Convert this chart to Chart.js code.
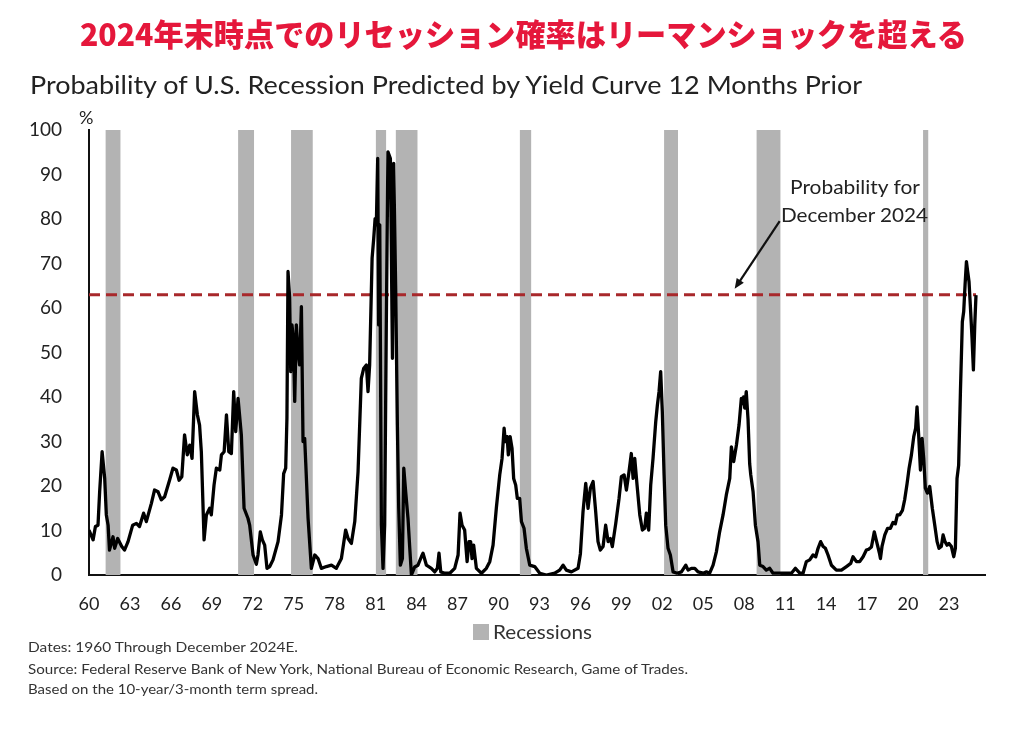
<!DOCTYPE html>
<html lang="ja">
<head>
<meta charset="UTF-8">
<title>Probability of U.S. Recession</title>
<script src="https://cdn.jsdelivr.net/npm/chart.js"></script>
<style>
    body {
        margin: 0;
        width: 1024px;
        height: 742px;
        background: #fff;
        position: relative;
        overflow: hidden;
        font-family: Lato, "Open Sans", sans-serif;
        color: #222;
    }
    #chart {
        position: absolute;
        left: 0;
        top: 0;
    }
    .txt {
        position: absolute;
        white-space: nowrap;
        line-height: 1;
        transform-origin: left center;
    }
    .jp {
        font-family: "Noto Sans CJK JP", sans-serif;
        font-weight: 900;
        color: #e5173b;
        font-size: 31px;
    }
    .swatch {
        position: absolute;
        left: 473px;
        top: 624px;
        width: 16px;
        height: 16px;
        background: #b3b3b3;
    }
</style>
</head>
<body>
    <canvas id="chart" width="1024" height="742"></canvas>

    <div class="txt jp" data-w="887" style="left:80px; top:17px;">2024年末時点でのリセッション確率はリーマンショックを超える</div>
    <div class="txt" data-w="832" style="left:30px; top:72px; font-size:25px;">Probability of U.S. Recession Predicted by Yield Curve 12 Months Prior</div>
    <div class="txt" style="left:79px; top:108px; font-size:18px;">%</div>

    <div class="txt" data-w="130" style="left:790px; top:177px; font-size:19px;">Probability for</div>
    <div class="txt" data-w="147" style="left:781px; top:205px; font-size:19px;">December 2024</div>

    <div class="swatch"></div>
    <div class="txt" data-w="99" style="left:493px; top:622px; font-size:19px; color:#333;">Recessions</div>

    <div class="txt" data-w="270" style="left:28px; top:641px; font-size:13px; color:#333;">Dates: 1960 Through December 2024E.</div>
    <div class="txt" data-w="660" style="left:28px; top:663px; font-size:13px; color:#333;">Source: Federal Reserve Bank of New York, National Bureau of Economic Research, Game of Trades.</div>
    <div class="txt" data-w="290" style="left:28px; top:683px; font-size:13px; color:#333;">Based on the 10-year/3-month term spread.</div>

<script>
// x axis labels (every 3 years, shown as 2 digits)
const tickYears = [1960, 1963, 1966, 1969, 1972, 1975, 1978, 1981, 1984, 1987, 1990,
    1993, 1996, 1999, 2002, 2005, 2008, 2011, 2014, 2017, 2020, 2023];

// recession bands as drawn on the chart (decimal years)
const recessionStarts = [1961.2, 1970.92, 1974.8, 1981.0, 1982.46, 1991.55, 2002.13, 2008.89, 2021.1];
const recessionEnds   = [1962.32, 1972.1, 1976.4, 1981.78, 1984.08, 1992.41, 2003.15, 2010.67, 2021.5];

// probability line
const probYears = [
    1960.0, 1960.3, 1960.47, 1960.66, 1960.78, 1960.96, 1961.15, 1961.27, 1961.4, 1961.5,
    1961.76, 1961.88, 1962.1, 1962.4, 1962.6, 1962.86, 1963.2, 1963.47, 1963.7, 1964.0,
    1964.2, 1964.57, 1964.8, 1965.06, 1965.3, 1965.54, 1965.9, 1966.15, 1966.4, 1966.6,
    1966.8, 1967.0, 1967.2, 1967.38, 1967.55, 1967.74, 1967.94, 1968.1, 1968.23, 1968.43,
    1968.6, 1968.84, 1968.96, 1969.16, 1969.33, 1969.58, 1969.7, 1969.9, 1970.07, 1970.24,
    1970.43, 1970.6, 1970.75, 1970.92, 1971.16, 1971.36, 1971.65, 1971.77, 1972.02, 1972.26,
    1972.38, 1972.55, 1972.7, 1972.87, 1973.04, 1973.24, 1973.48, 1973.85, 1974.1, 1974.26,
    1974.41, 1974.5, 1974.58, 1974.7, 1974.78, 1974.87, 1974.97, 1975.07, 1975.19, 1975.31,
    1975.43, 1975.56, 1975.68, 1975.8, 1975.88, 1976.05, 1976.29, 1976.54, 1976.78, 1977.02,
    1977.39, 1977.76, 1978.12, 1978.49, 1978.8, 1978.98, 1979.22, 1979.47, 1979.71, 1979.95,
    1980.12, 1980.32, 1980.44, 1980.56, 1980.74, 1980.86, 1980.96, 1981.05, 1981.15, 1981.22,
    1981.3, 1981.42, 1981.54, 1981.66, 1981.78, 1981.9, 1982.08, 1982.23, 1982.32, 1982.47,
    1982.59, 1982.69, 1982.81, 1982.96, 1983.06, 1983.2, 1983.37, 1983.5, 1983.62, 1983.86,
    1984.1, 1984.35, 1984.47, 1984.72, 1985.08, 1985.33, 1985.52, 1985.64, 1985.77, 1986.06,
    1986.43, 1986.79, 1987.04, 1987.18, 1987.33, 1987.52, 1987.7, 1987.84, 1987.96, 1988.06,
    1988.18, 1988.38, 1988.75, 1989.11, 1989.36, 1989.6, 1989.84, 1990.09, 1990.26, 1990.41,
    1990.5, 1990.63, 1990.72, 1990.85, 1990.99, 1991.11, 1991.26, 1991.38, 1991.55, 1991.68,
    1991.87, 1992.04, 1992.29, 1992.65, 1993.02, 1993.51, 1994.12, 1994.48, 1994.73, 1994.97,
    1995.34, 1995.83, 1996.0, 1996.19, 1996.39, 1996.56, 1996.73, 1996.93, 1997.12, 1997.29,
    1997.46, 1997.66, 1997.85, 1998.03, 1998.2, 1998.34, 1998.59, 1998.83, 1999.0, 1999.2,
    1999.37, 1999.56, 1999.73, 1999.86, 1999.98, 2000.15, 2000.35, 2000.54, 2000.71, 2000.83,
    2001.0, 2001.15, 2001.32, 2001.52, 2001.64, 2001.76, 2001.88, 2002.0, 2002.13, 2002.25,
    2002.42, 2002.59, 2002.79, 2003.08, 2003.4, 2003.72, 2003.89, 2004.13, 2004.38, 2004.62,
    2004.99, 2005.23, 2005.47, 2005.72, 2005.96, 2006.2, 2006.45, 2006.69, 2006.94, 2007.06,
    2007.23, 2007.43, 2007.62, 2007.79, 2007.9, 2007.96, 2008.04, 2008.15, 2008.28, 2008.4,
    2008.48, 2008.65, 2008.82, 2009.01, 2009.14, 2009.38, 2009.62, 2009.87, 2010.11, 2010.48,
    2010.97, 2011.46, 2011.75, 2012.07, 2012.31, 2012.55, 2012.8, 2013.04, 2013.24, 2013.41,
    2013.6, 2013.78, 2013.95, 2014.14, 2014.39, 2014.75, 2015.12, 2015.49, 2015.8, 2015.97,
    2016.22, 2016.46, 2016.71, 2016.95, 2017.12, 2017.32, 2017.53, 2017.7, 2017.9, 2017.98,
    2018.1, 2018.3, 2018.5, 2018.71, 2018.9, 2019.07, 2019.22, 2019.39, 2019.59, 2019.76,
    2019.93, 2020.08, 2020.25, 2020.42, 2020.56, 2020.66, 2020.78, 2020.91, 2021.03, 2021.15,
    2021.27, 2021.42, 2021.59, 2021.78, 2021.96, 2022.13, 2022.27, 2022.44, 2022.57, 2022.71,
    2022.86, 2023.0, 2023.18, 2023.35, 2023.47, 2023.59, 2023.71, 2023.84, 2023.98, 2024.08,
    2024.18, 2024.28, 2024.37, 2024.47, 2024.59, 2024.69, 2024.79, 2024.89, 2024.98
];
const probValues = [
    10.1, 7.9, 10.9, 11.2, 18.7, 27.7, 21.7, 13.5, 11.2, 5.6,
    8.6, 6.0, 8.2, 6.4, 5.6, 7.5, 11.2, 11.6, 10.9, 13.9,
    12.0, 16.1, 19.1, 18.7, 16.9, 17.6, 21.3, 24.0, 23.6, 21.3,
    22.1, 31.5, 27.0, 29.2, 26.2, 41.2, 36.0, 33.7, 27.7, 7.9,
    13.5, 15.0, 13.5, 20.2, 24.0, 23.6, 27.0, 27.7, 36.0, 27.7,
    27.3, 41.2, 32.2, 39.7, 31.5, 15.0, 12.7, 11.2, 4.5, 2.4,
    4.5, 9.7, 7.9, 6.7, 1.5, 1.9, 3.4, 7.5, 13.5, 22.8,
    24.0, 35.2, 68.2, 62.2, 45.7, 56.2, 53.2, 39.0, 56.2, 50.2,
    47.2, 60.3, 30.0, 30.7, 25.1, 12.7, 1.5, 4.5, 3.7, 1.5,
    1.9, 2.2, 1.5, 3.7, 10.1, 8.2, 7.1, 12.0, 23.2, 44.2,
    46.4, 47.2, 41.2, 47.2, 71.2, 75.7, 80.1, 78.7, 93.6, 56.2,
    78.7, 11.2, 1.5, 11.2, 56.2, 95.1, 93.6, 48.7, 92.5, 63.7,
    33.7, 15.0, 2.2, 3.7, 24.0, 18.7, 12.7, 6.0, 0.0, 1.8,
    2.2, 4.1, 4.9, 2.2, 1.5, 0.7, 1.5, 4.9, 0.7, 0.4,
    0.4, 1.5, 4.5, 13.9, 11.2, 10.1, 3.0, 7.5, 7.5, 3.7,
    6.7, 1.5, 0.4, 1.5, 3.0, 6.7, 15.0, 22.5, 26.2, 33.0,
    30.0, 31.1, 27.0, 31.1, 28.5, 21.7, 20.2, 17.2, 17.2, 12.0,
    10.5, 6.0, 2.2, 1.9, 0.4, 0.0, 0.4, 1.1, 2.2, 1.1,
    0.7, 1.5, 4.8, 14.2, 20.6, 15.0, 19.5, 21.0, 14.2, 7.5,
    5.6, 6.4, 11.2, 7.5, 8.2, 6.4, 11.6, 17.2, 22.1, 22.5,
    19.1, 23.2, 27.3, 21.7, 26.2, 20.2, 13.5, 10.1, 10.5, 13.9,
    10.1, 20.2, 26.2, 34.5, 38.2, 41.2, 45.7, 36.7, 22.5, 11.2,
    6.0, 4.5, 0.7, 0.4, 0.7, 2.2, 1.1, 1.5, 1.5, 0.7,
    0.4, 0.7, 0.4, 2.2, 5.2, 9.7, 13.5, 18.0, 21.7, 28.8,
    25.5, 29.2, 33.7, 39.7, 38.5, 40.0, 37.5, 41.2, 35.0, 25.0,
    22.5, 18.7, 11.2, 7.5, 2.2, 1.9, 1.1, 1.5, 0.4, 0.4,
    0.4, 0.4, 1.5, 0.4, 0.4, 3.0, 3.4, 4.5, 4.1, 6.0,
    7.5, 6.4, 6.0, 4.5, 2.2, 1.1, 1.1, 1.9, 2.6, 4.1,
    3.0, 3.0, 4.1, 5.6, 5.8, 6.3, 9.7, 7.5, 5.0, 3.7,
    6.5, 9.0, 10.5, 10.5, 11.8, 11.5, 13.5, 13.5, 14.5, 17.0,
    20.5, 24.0, 27.0, 31.1, 33.0, 37.8, 31.5, 23.6, 30.7, 26.2,
    19.5, 18.4, 19.9, 15.0, 11.2, 7.5, 6.0, 6.4, 9.0, 7.5,
    6.7, 7.1, 6.4, 4.1, 6.0, 21.7, 24.7, 41.2, 56.9, 59.2,
    65.2, 70.4, 68.2, 65.9, 59.2, 53.2, 46.1, 56.2, 62.9
];

// probability for December 2024 (dashed line)
const dec2024Prob = 63;
const lineStartYear = 1960;
const lineEndYear = 2024.98;

const datasets = [
    {
        label: "Probability",
        data: probYears.map((x, i) => ({ x: x, y: probValues[i] })),
        borderColor: "#000",
        borderWidth: 3.3,
        borderJoinStyle: "round",
        pointRadius: 0,
        tension: 0,
        fill: false
    },
    {
        label: "Dec 2024",
        data: [{ x: lineStartYear, y: dec2024Prob }, { x: lineEndYear, y: dec2024Prob }],
        borderColor: "#a8282b",
        borderWidth: 3,
        borderDash: [11, 6],
        pointRadius: 0,
        fill: false
    }
];
recessionStarts.forEach((s, i) => {
    datasets.push({
        label: "Recessions",
        data: [{ x: s, y: 100 }, { x: recessionEnds[i], y: 100 }],
        borderWidth: 0,
        borderColor: "rgba(0,0,0,0)",
        backgroundColor: "#b3b3b3",
        pointRadius: 0,
        fill: "origin"
    });
});

// arrow for the "Probability for December 2024" note
const arrowPlugin = {
    id: "arrow",
    afterDatasetsDraw(chart) {
        const xs = chart.scales.x, ys = chart.scales.y, ctx = chart.ctx;
        const x1 = xs.getPixelForValue(2010.6), y1 = ys.getPixelForValue(79.5);
        const x2 = xs.getPixelForValue(2007.3), y2 = ys.getPixelForValue(64.3);
        const a = Math.atan2(y2 - y1, x2 - x1);
        ctx.save();
        ctx.strokeStyle = "#111";
        ctx.fillStyle = "#111";
        ctx.lineWidth = 2.2;
        ctx.beginPath();
        ctx.moveTo(x1, y1);
        ctx.lineTo(x2 - 6 * Math.cos(a), y2 - 6 * Math.sin(a));
        ctx.stroke();
        ctx.beginPath();
        ctx.moveTo(x2, y2);
        ctx.lineTo(x2 - 11 * Math.cos(a - 0.4), y2 - 11 * Math.sin(a - 0.4));
        ctx.lineTo(x2 - 11 * Math.cos(a + 0.4), y2 - 11 * Math.sin(a + 0.4));
        ctx.closePath();
        ctx.fill();
        ctx.restore();
    }
};

new Chart(document.getElementById("chart"), {
    type: "line",
    data: { datasets: datasets },
    options: {
        responsive: false,
        animation: false,
        events: [],
        layout: { padding: { left: 0, top: 130, right: 39, bottom: 127 } },
        plugins: {
            legend: { display: false },
            tooltip: { enabled: false }
        },
        scales: {
            x: {
                type: "linear",
                min: 1960,
                max: 2025.64,
                afterFit: s => { s.height = 40; },
                afterBuildTicks: s => { s.ticks = tickYears.map(v => ({ value: v })); },
                grid: { display: false, drawTicks: false },
                border: { display: true, color: "#111", width: 2 },
                ticks: {
                    padding: 18,
                    maxRotation: 0,
                    autoSkip: false,
                    color: "#222",
                    font: { family: "Lato", size: 18 },
                    callback: v => String(v % 100).padStart(2, "0")
                }
            },
            y: {
                min: 0,
                max: 100,
                afterFit: s => { s.width = 89; },
                grid: { display: false, drawTicks: false },
                border: { display: true, color: "#111", width: 2 },
                ticks: {
                    stepSize: 10,
                    padding: 27,
                    color: "#222",
                    font: { family: "Lato", size: 19 }
                }
            }
        }
    },
    plugins: [arrowPlugin]
});

// stretch the texts to the widths they have in the picture
document.querySelectorAll(".txt[data-w]").forEach(el => {
    const w = +el.dataset.w;
    const r = el.getBoundingClientRect().width;
    el.style.transform = "scaleX(" + (w / r) + ")";
});
</script>
</body>
</html>
